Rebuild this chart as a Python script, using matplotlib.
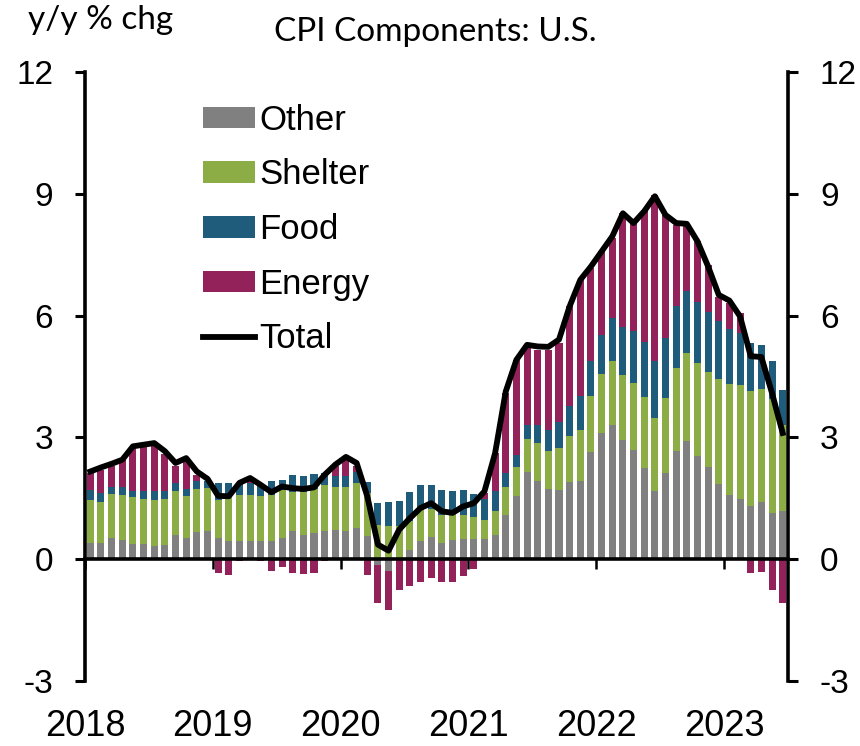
import matplotlib
matplotlib.use("Agg")
import matplotlib.pyplot as plt
import numpy as np

# ---- data (y/y % chg contributions), Jan 2018 .. Jun 2023 ----
years = ["2018", "2019", "2020", "2021", "2022", "2023"]

other = [0.41, 0.40, 0.52, 0.48, 0.38, 0.38, 0.33, 0.36, 0.60, 0.52, 0.66, 0.69,
         0.52, 0.44, 0.46, 0.46, 0.44, 0.46, 0.52, 0.69, 0.60, 0.64, 0.70, 0.71,
         0.69, 0.77, 0.58, -0.15, -0.28, 0.02, 0.23, 0.44, 0.54, 0.41, 0.48, 0.50,
         0.50, 0.50, 0.60, 1.10, 1.55, 2.14, 1.93, 1.74, 1.71, 1.89, 1.92, 2.63,
         3.12, 3.31, 2.93, 2.68, 2.24, 1.67, 2.12, 2.66, 2.90, 2.55, 2.26, 1.86,
         1.59, 1.48, 1.30, 1.40, 1.14, 1.19]
shelter = [1.06, 1.02, 1.09, 1.11, 1.15, 1.10, 1.14, 1.12, 1.09, 1.04, 1.07, 1.06,
           0.95, 1.15, 1.13, 1.13, 1.11, 1.13, 1.18, 0.96, 1.05, 1.09, 1.12, 1.07,
           1.09, 1.11, 1.05, 0.85, 0.82, 0.81, 0.70, 0.82, 0.70, 0.69, 0.64, 0.59,
           0.53, 0.47, 0.58, 0.69, 0.72, 0.83, 0.92, 0.92, 1.03, 1.15, 1.27, 1.38,
           1.45, 1.56, 1.61, 1.66, 1.75, 1.80, 1.85, 2.05, 2.18, 2.28, 2.34, 2.57,
           2.73, 2.80, 2.85, 2.79, 2.80, 2.12]
food = [0.23, 0.21, 0.17, 0.18, 0.16, 0.19, 0.20, 0.19, 0.19, 0.18, 0.19, 0.17,
        0.41, 0.29, 0.29, 0.29, 0.26, 0.33, 0.26, 0.43, 0.41, 0.38, 0.31, 0.26,
        0.26, 0.27, 0.27, 0.53, 0.60, 0.61, 0.72, 0.56, 0.58, 0.60, 0.55, 0.61,
        0.58, 0.51, 0.49, 0.33, 0.30, 0.33, 0.46, 0.51, 0.64, 0.74, 0.84, 0.86,
        0.94, 1.07, 1.19, 1.27, 1.37, 1.40, 1.49, 1.53, 1.53, 1.50, 1.48, 1.44,
        1.36, 1.29, 1.17, 1.09, 0.93, 0.85]
energy = [0.42, 0.57, 0.51, 0.68, 1.05, 1.11, 1.11, 0.93, 0.41, 0.67, 0.16, 0.00,
          -0.33, -0.38, -0.04, 0.10, -0.05, -0.30, -0.18, -0.34, -0.36, -0.34, -0.05, 0.25,
          0.41, 0.14, -0.38, -0.93, -0.97, -0.75, -0.65, -0.55, -0.46, -0.55, -0.55, -0.41,
          -0.24, 0.15, 0.94, 1.97, 2.34, 1.90, 1.85, 1.99, 1.95, 2.45, 2.85, 2.30,
          2.07, 1.97, 2.80, 2.67, 3.21, 4.11, 3.02, 2.00, 1.63, 1.50, 1.17, 0.60,
          0.63, 0.49, -0.33, -0.32, -0.75, -1.07]
total = [2.16, 2.26, 2.35, 2.45, 2.78, 2.82, 2.86, 2.66, 2.37, 2.49, 2.16, 1.98,
         1.56, 1.55, 1.88, 2.00, 1.83, 1.65, 1.79, 1.75, 1.73, 1.77, 2.08, 2.33,
         2.52, 2.37, 1.55, 0.36, 0.21, 0.73, 1.01, 1.26, 1.38, 1.18, 1.14, 1.30,
         1.38, 1.67, 2.61, 4.13, 4.91, 5.28, 5.24, 5.23, 5.41, 6.23, 6.88, 7.21,
         7.58, 7.95, 8.52, 8.28, 8.57, 8.94, 8.48, 8.28, 8.26, 7.83, 7.21, 6.51,
         6.37, 5.98, 5.00, 4.98, 4.09, 3.11]

series = [("Other", other, "#808080"),
          ("Shelter", shelter, "#8cad46"),
          ("Food", food, "#1f5b7a"),
          ("Energy", energy, "#93215a")]

tick_font = ["Liberation Sans", "DejaVu Sans"]
title_font = ["Lato", "DejaVu Sans"]

fig = plt.figure(figsize=(8.6, 7.46), dpi=100)
ax = fig.add_axes([85 / 860, 1 - 681 / 746, (788 - 85) / 860, (681 - 72) / 746])

n = len(total)
x = np.arange(n) + 0.5
pos_b = np.zeros(n)
neg_b = np.zeros(n)
handles = []
for name, vals, col in series:
    v = np.array(vals)
    bottom = np.where(v >= 0, pos_b, neg_b)
    h = ax.bar(x, v, bottom=bottom, width=0.66, color=col, label=name,
               linewidth=0, zorder=2)
    handles.append(h)
    pos_b += np.clip(v, 0, None)
    neg_b += np.clip(v, None, 0)

ln, = ax.plot(x, total, color="black", lw=4.2, label="Total", zorder=4,
              solid_joinstyle="round")
handles.append(ln)

ax.set_xlim(0, n)
ax.set_ylim(-3, 12)
ax.set_yticks([-3, 0, 3, 6, 9, 12])
ax.set_yticklabels(["-3", "0", "3", "6", "9", "12"], family=tick_font, fontsize=24)

for s in ["top", "right"]:
    ax.spines[s].set_visible(False)
ax.spines["left"].set_linewidth(2.6)
ax.spines["bottom"].set_position(("data", 0))
ax.spines["bottom"].set_linewidth(2.6)
ax.spines["bottom"].set_zorder(5)

ax.set_xticks(np.arange(0, n, 12))
ax.set_xticklabels(years, family=tick_font, fontsize=26)
ax.tick_params(axis="x", direction="out", length=7, width=1.8, pad=101)
ax.tick_params(axis="y", direction="out", length=7, width=2.2, pad=16)

ax2 = ax.twinx()
ax2.set_ylim(-3, 12)
ax2.set_yticks([-3, 0, 3, 6, 9, 12])
ax2.set_yticklabels(["-3", "0", "3", "6", "9", "12"], family=tick_font, fontsize=24)
for s in ["top", "left", "bottom"]:
    ax2.spines[s].set_visible(False)
ax2.spines["right"].set_linewidth(2.6)
ax2.tick_params(axis="y", direction="out", length=7, width=2.2, pad=16)

leg = ax.legend(handles=handles, labels=[h.get_label() for h in handles],
                loc="upper left", bbox_to_anchor=(0.168, 0.948), frameon=False,
                prop={"family": tick_font, "size": 25}, handlelength=1.5,
                handleheight=0.58, handletextpad=0.12, labelspacing=0.625,
                borderpad=0, borderaxespad=0)

fig.text(28 / 860, 1 - 5 / 746, "y/y % chg", family=title_font, fontsize=24,
         ha="left", va="top")
fig.text(435 / 860, 1 - 32 / 746, "CPI Components: U.S.", family=title_font,
         fontsize=24, ha="center", va="center")

fig.savefig("out.png", dpi=100)
